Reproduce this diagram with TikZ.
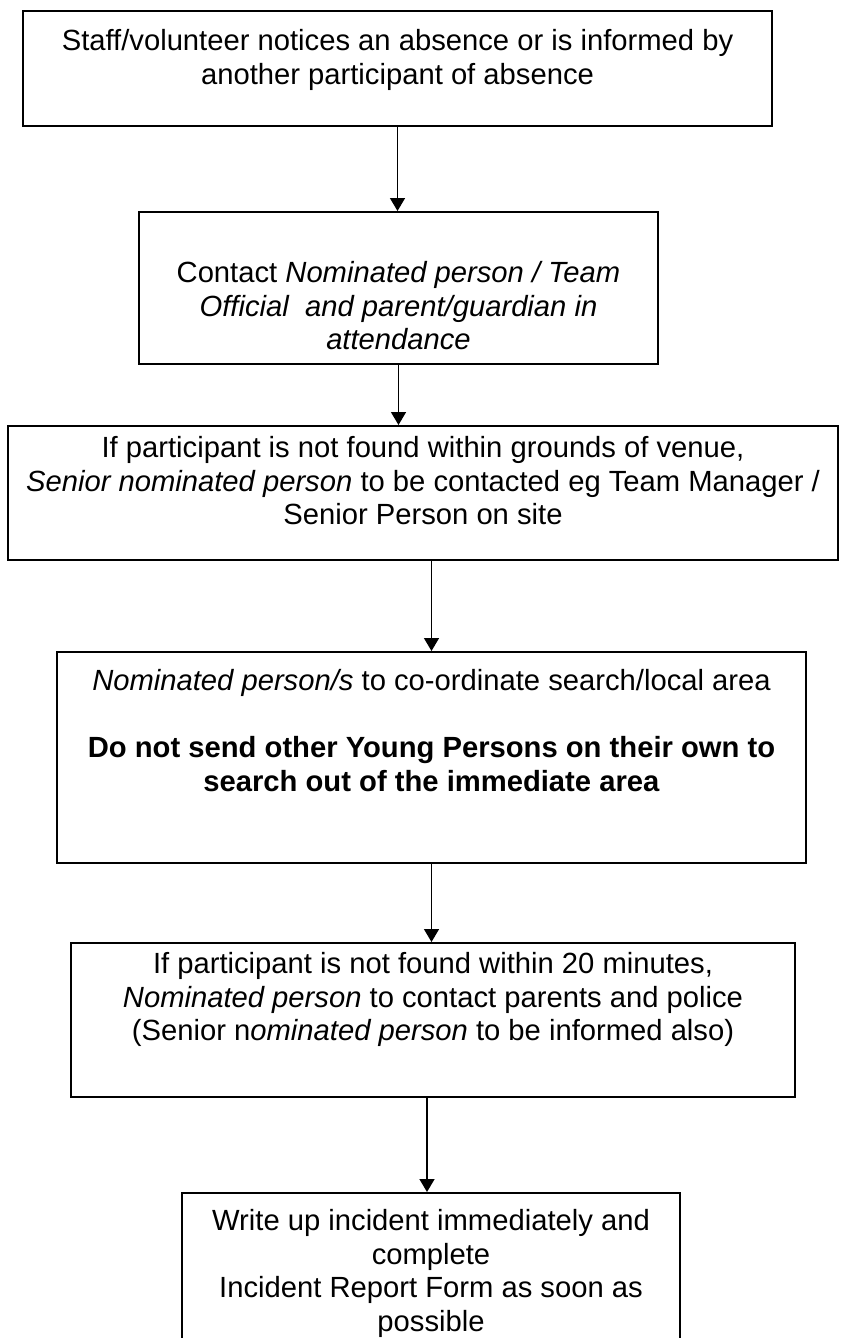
\documentclass[tikz,border=0pt]{standalone}
\usepackage{fontspec}
\setmainfont{Liberation Sans}
\usetikzlibrary{arrows.meta,calc}
\tikzset{
  box/.style={draw,line width=1pt,anchor=north,inner sep=0pt},
  txt/.style={anchor=north,align=center,inner sep=0pt,font=\fontsize{14.6}{16.8}\selectfont},
  flow/.style={-{Triangle[width=7.5pt,length=6.5pt]},line width=0.75pt}
}

\begin{document}
\begin{tikzpicture}[x=0.5pt,y=-0.5pt]
  \useasboundingbox (0,0) rectangle (841,1338);
  % boxes, top centre given in pixels
  \node[box,minimum width=374.5pt,minimum height=57.5pt] (notice) at (397.5,10) {};
  \node[box,minimum width=259.5pt,minimum height=76pt] (contact) at (398.5,211) {};
  \node[box,minimum width=415pt,minimum height=67pt] (senior) at (423,425) {};
  \node[box,minimum width=374.5pt,minimum height=105.5pt] (search) at (431.5,651) {};
  \node[box,minimum width=362pt,minimum height=77pt] (police) at (433,942) {};
  \node[box,minimum width=249pt,minimum height=100pt] (report) at (431,1192) {};

  \node[txt] (noticetxt) at (397.5,29) {Staff/volunteer notices an absence or is informed by\\another participant of absence};
  \node[txt] (contacttxt) at (398.5,261) {Contact \textit{Nominated person / Team}\\\textit{Official\ \ and parent/guardian in}\\\textit{attendance}};
  \node[txt] (seniortxt) at (423,436) {If participant is not found within grounds of venue,\\\textit{Senior nominated person} to be contacted eg Team Manager /\\Senior Person on site};
  \node[txt] (searchtxt) at (431.5,669) {\textit{Nominated person/s} to co-ordinate search/local area\\[16.8pt]\textbf{Do not send other Young Persons on their own to}\\\textbf{search out of the immediate area}};
  \node[txt] (policetxt) at (433,952) {If participant is not found within 20 minutes,\\\textit{Nominated person} to contact parents and police\\(Senior n\textit{ominated person} to be informed also)};
  \node[txt] (reporttxt) at (431,1209) {Write up incident immediately and\\complete\\Incident Report Form as soon as\\possible};

  \draw[flow] (notice.south) -- (notice.south |- contact.north);
  \draw[flow] (contact.south) -- (contact.south |- senior.north);
  \draw[flow] (search.north |- senior.south) -- (search.north);
  \draw[flow] (search.south) -- (search.south |- police.north);
  \draw[flow] ([xshift=-2pt]report.north |- police.south) -- ([xshift=-2pt]report.north);
\end{tikzpicture}
\end{document}
